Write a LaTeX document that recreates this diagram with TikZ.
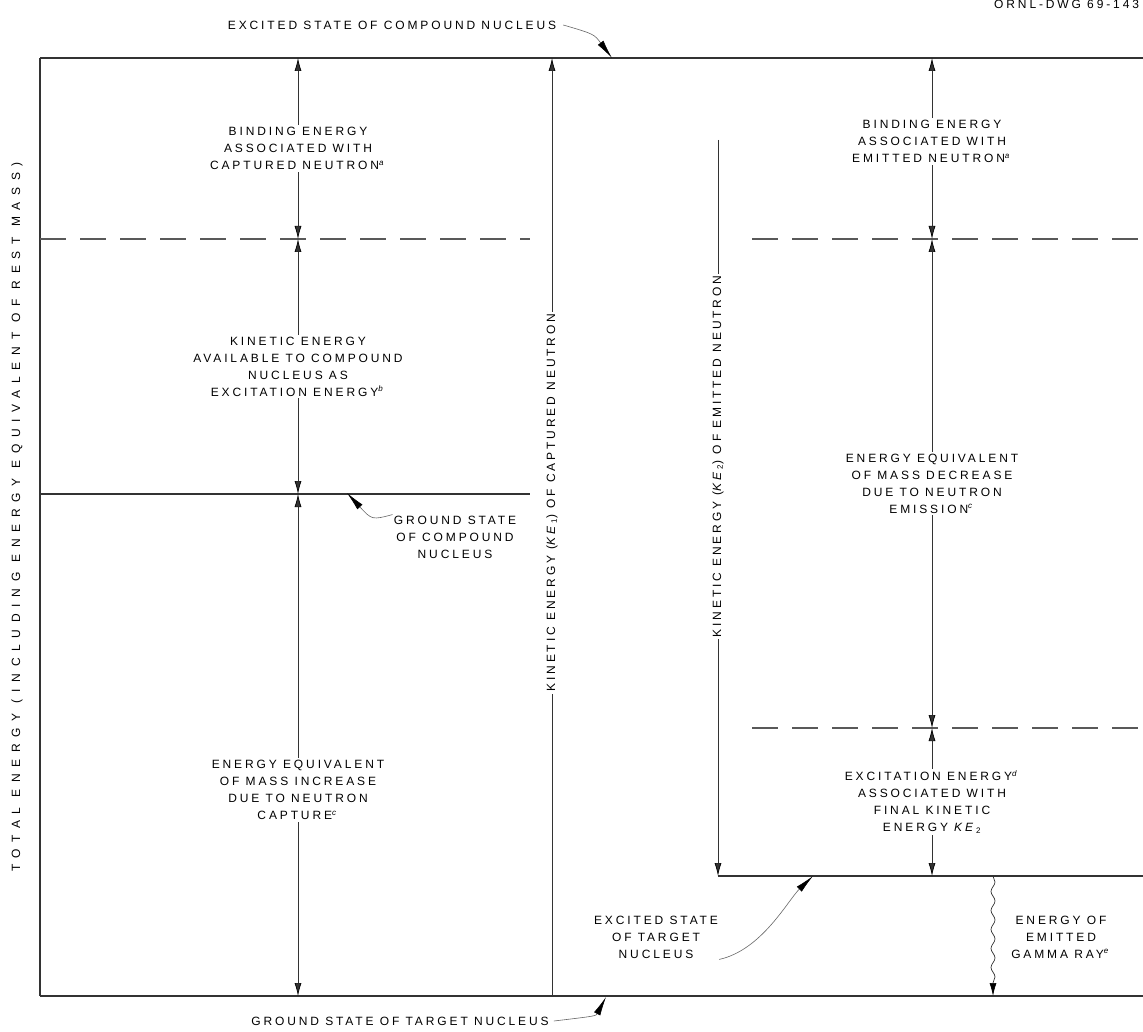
\documentclass[tikz,border=0pt]{standalone}
\usepackage{fontspec}
\setmainfont{Liberation Sans}[LetterSpace=24]
\newfontfamily\widefont{Liberation Sans}[LetterSpace=56]
\usetikzlibrary{arrows.meta,decorations.pathmorphing}
\newcommand{\lblsize}{\fontsize{12}{17}\selectfont}
\newcommand{\fnote}[1]{\textsuperscript{\textit{#1}}}
\newcommand{\KE}[1]{\textit{KE}\textsubscript{#1}}

\begin{document}
\begin{tikzpicture}[x=1pt,y=-1pt,
  lvl/.style={color=black!80,line width=1.1pt},
  dashlvl/.style={color=black!65,line width=1.1pt,dash pattern=on 26pt off 14pt},
  twoway/.style={{Latex[length=13pt,width=7pt,black]}-{Latex[length=13pt,width=7pt,black]},color=black!80,line width=0.7pt},
  oneway/.style={-{Latex[length=13pt,width=7pt,black]},color=black!80,line width=0.7pt},
  leader/.style={-{Latex[length=19pt,width=7pt,black]},color=black!60,line width=0.6pt},
  lbl/.style={fill=white,text=black,align=center,inner sep=2pt,font=\lblsize},
  txt/.style={align=center,inner sep=1pt,font=\lblsize}]
\useasboundingbox (0,0) rectangle (1143,1032);
% \draw[help lines] (0,0) grid (1143,1032);
\coordinate (TL) at (40,58);
\coordinate (TR) at (1143,58);
\coordinate (BL) at (40,996);
\coordinate (BR) at (1143,996);
%
% energy levels
\path[lvl] (TL) edge (TR);
\path[lvl] (BL) edge (BR);
\path[lvl] (TL) edge (BL);
\coordinate (gc1) at (40,494);
\coordinate (gc2) at (530,494);
\path[lvl] (gc1) edge (gc2);
\coordinate (bc1) at (40,239);
\coordinate (bc2) at (530,239);
\path[dashlvl] (bc1) edge (bc2);
\coordinate (be1) at (752,239);
\coordinate (be2) at (1143,239);
\path[dashlvl] (be1) edge (be2);
\coordinate (me1) at (752,728);
\coordinate (me2) at (1143,728);
\path[dashlvl] (me1) edge (me2);
\coordinate (xt1) at (718,876);
\coordinate (xt2) at (1143,876);
\path[lvl] (xt1) edge (xt2);
%
% left column
\coordinate (c1) at (298,58);
\coordinate (c2) at (298,239);
\coordinate (c3) at (298,494);
\coordinate (c4) at (298,996);
\path[twoway] (c1) edge node[lbl] {BINDING ENERGY\\ASSOCIATED WITH\\CAPTURED NEUTRON\fnote{a}} (c2);
\path[twoway] (c2) edge node[lbl] {KINETIC ENERGY\\AVAILABLE TO COMPOUND\\NUCLEUS AS\\EXCITATION ENERGY\fnote{b}} (c3);
\path[twoway] (c3) edge node[lbl,pos=0.59] {ENERGY EQUIVALENT\\OF MASS INCREASE\\DUE TO NEUTRON\\CAPTURE\fnote{c}} (c4);
%
% kinetic energies
\coordinate (k1b) at (552,996);
\coordinate (k1t) at (552,58);
\path[oneway] (k1b) edge node[lbl,pos=0.526,rotate=90] {KINETIC ENERGY (\KE{1}) OF CAPTURED NEUTRON} (k1t);
\coordinate (k2t) at (718,140);
\coordinate (k2b) at (718,876);
\path[oneway] (k2t) edge node[lbl,pos=0.43,rotate=90] {KINETIC ENERGY (\KE{2}) OF EMITTED NEUTRON} (k2b);
%
% right column
\coordinate (r1) at (932,58);
\coordinate (r2) at (932,239);
\coordinate (r3) at (932,728);
\coordinate (r4) at (932,876);
\path[twoway] (r1) edge node[lbl,pos=0.46] {BINDING ENERGY\\ASSOCIATED WITH\\EMITTED NEUTRON\fnote{a}} (r2);
\path[twoway] (r2) edge node[lbl] {ENERGY EQUIVALENT\\OF MASS DECREASE\\DUE TO NEUTRON\\EMISSION\fnote{c}} (r3);
\path[twoway] (r3) edge node[lbl] {EXCITATION ENERGY\fnote{d}\\ASSOCIATED WITH\\FINAL KINETIC\\ENERGY \KE{2}} (r4);
%
% gamma ray
\coordinate (g1) at (993,876);
\coordinate (g2) at (993,996);
\draw[oneway,decorate,decoration={snake,amplitude=2pt,segment length=19pt,post length=12pt}] (g1) -- (g2);
\node (gam) [txt] at (1061,937) {ENERGY OF\\EMITTED\\GAMMA RAY\fnote{e}};
%
% level names
\node (total) [txt,rotate=90] at (17,517) {\widefont TOTAL ENERGY (INCLUDING ENERGY EQUIVALENT OF REST MASS)};
\node (exCN) [txt] at (392,25) {EXCITED STATE OF COMPOUND NUCLEUS};
\coordinate (exCNpt) at (612,58);
\draw[leader] ([xshift=6pt]exCN.east) .. controls (594,34) .. (exCNpt);
\node (gsCN) [txt] at (455,537) {GROUND STATE\\OF COMPOUND\\NUCLEUS};
\coordinate (gsCNpt) at (347,493);
\draw[leader] (gsCN.north west) .. controls (372,520) .. (gsCNpt);
\node (exTN) [txt] at (656,937) {EXCITED STATE\\OF TARGET\\NUCLEUS};
\coordinate (exTNpt) at (813,876);
\draw[leader] (exTN.south east) .. controls (762,950) and (788,900) .. (exTNpt);
\node (gsTN) [txt] at (400,1021) {GROUND STATE OF TARGET NUCLEUS};
\coordinate (gsTNpt) at (606,997);
\draw[leader] ([xshift=4pt]gsTN.east) .. controls (596,1016) .. (gsTNpt);
\node (dwg) [txt,anchor=west] at (993,4) {ORNL-DWG 69-143};
\end{tikzpicture}
\end{document}
